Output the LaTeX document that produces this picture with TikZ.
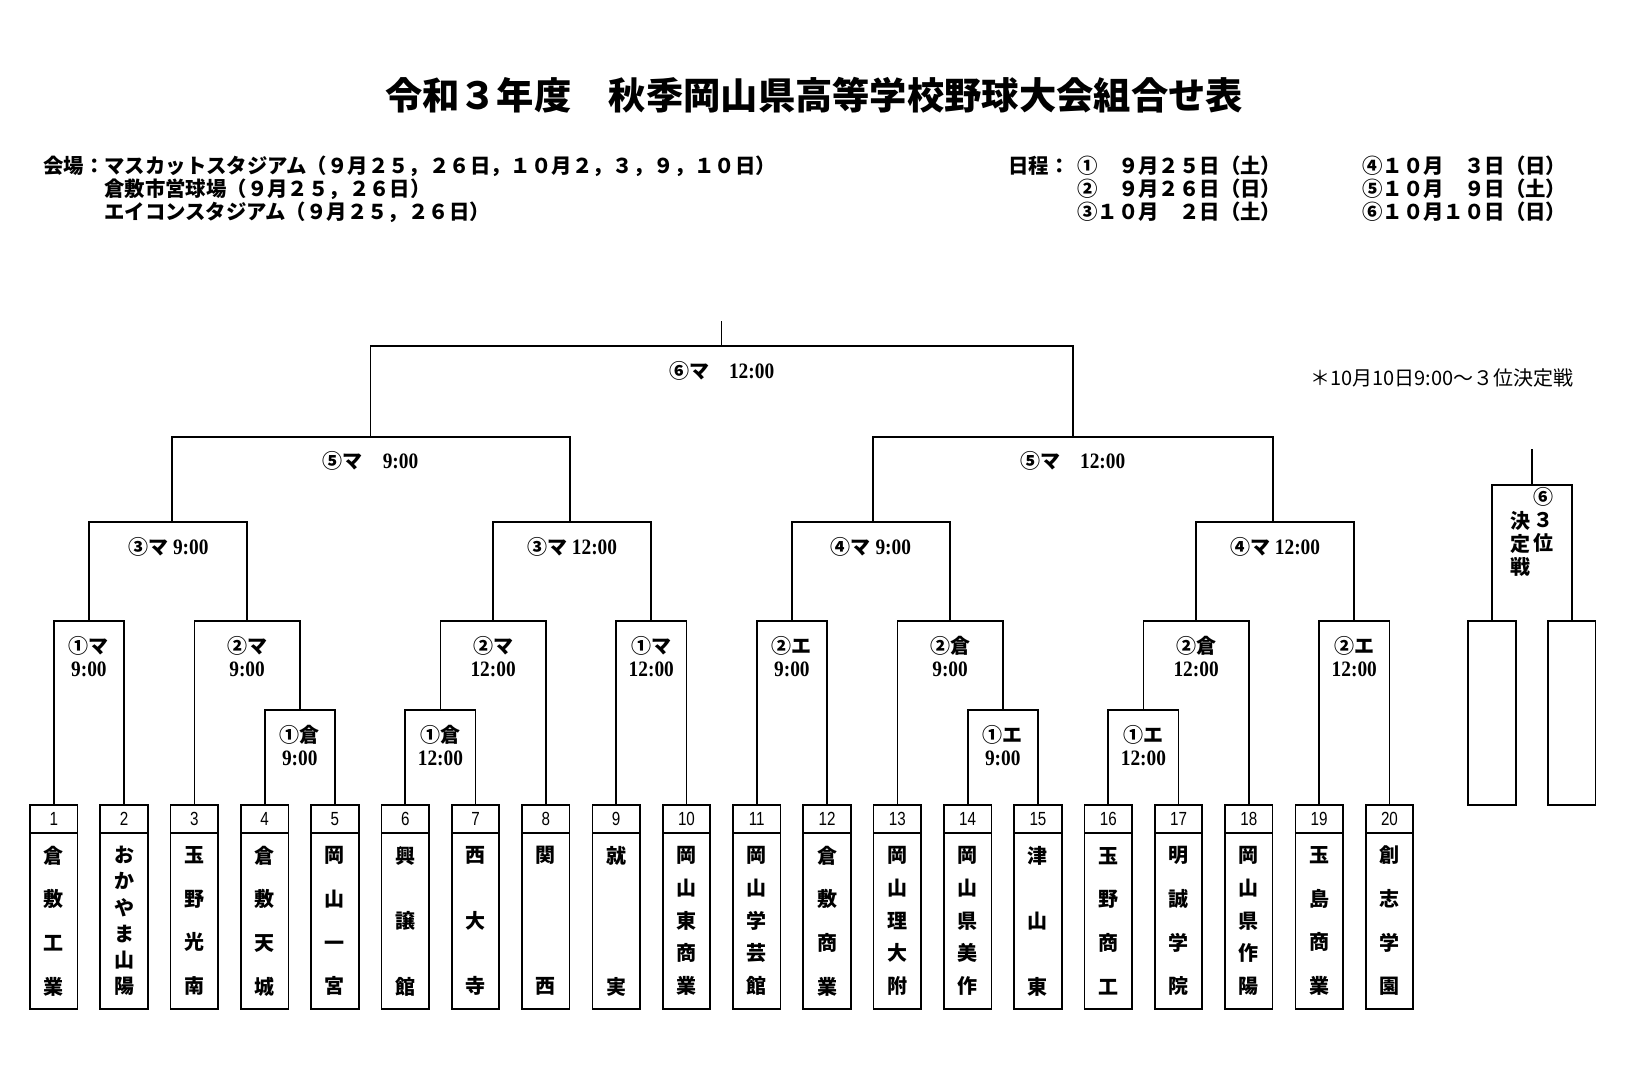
\documentclass[tikz,border=0pt]{standalone}
\usepackage{fontspec}
\newfontfamily\cjk{Noto Sans CJK JP}
\newfontfamily\numf[FakeStretch=0.8]{Liberation Sans}
\newfontfamily\tmf[FakeStretch=0.88]{Liberation Serif}
\newcommand\mkteam[4]{%
  \node[numbox] (n#1) at ({53.75+70.3*(#1-1)},819) {#1};
  \node[namebox,#3] (b#1) at ({53.75+70.3*(#1-1)},921) {#4};}
\newcommand\tm[1]{{\tmf\fontsize{22}{23}\selectfont #1}}
\tikzset{
 numbox/.style={draw,line width=1.7pt,minimum width=47.5pt,minimum height=28pt,inner sep=0pt,font=\numf\fontsize{19}{19}\selectfont},
 namebox/.style={draw,line width=1.7pt,minimum width=47.5pt,minimum height=176pt,inner sep=0pt,text width=30pt,align=center},
 nmA/.style={font=\cjk\bfseries\fontsize{20}{131}\selectfont},
 nmB/.style={font=\cjk\bfseries\fontsize{20}{65.5}\selectfont},
 nmC/.style={font=\cjk\bfseries\fontsize{20}{43.67}\selectfont},
 nmD/.style={font=\cjk\bfseries\fontsize{20}{32.75}\selectfont},
 nmE/.style={font=\cjk\bfseries\fontsize{20}{26.2}\selectfont},
 lab/.style={inner sep=0pt,align=center,font=\cjk\bfseries\fontsize{20}{23}\selectfont},
 bline/.style={line width=1.7pt,line join=miter},
 hdr/.style={inner sep=0pt,anchor=west,font=\cjk\bfseries\fontsize{20.4}{23}\selectfont},
 pbox/.style={draw,line width=1.7pt,minimum width=47.5pt,minimum height=184pt,inner sep=0pt},
 vlab/.style={inner sep=0pt,align=center,font=\cjk\bfseries\fontsize{20}{23}\selectfont},
}
\begin{document}
\begin{tikzpicture}[x=1pt,y=-1pt]
\fill[white] (0,0) rectangle (1628,1080);
\useasboundingbox (0,0) rectangle (1628,1080);

% title
\node[font=\cjk\bfseries\fontsize{37.3}{40}\selectfont,inner sep=0pt] (title) at (814,95) {令和３年度　秋季岡山県高等学校野球大会組合せ表};

% venues
\node[hdr] (v1) at (43,166) {会場：マスカットスタジアム（９月２５，２６日，１０月２，３，９，１０日）};
\node[hdr] (v2) at (104,189) {倉敷市営球場（９月２５，２６日）};
\node[hdr] (v3) at (104,212) {エイコンスタジアム（９月２５，２６日）};

% schedule
\node[hdr] (d0) at (1008,166) {日程：};
\node[hdr] (d1) at (1077,166) {①　９月２５日（土）};
\node[hdr] (d2) at (1077,189) {②　９月２６日（日）};
\node[hdr] (d3) at (1077,212) {③１０月　２日（土）};
\node[hdr] (d4) at (1362,166) {④１０月　３日（日）};
\node[hdr] (d5) at (1362,189) {⑤１０月　９日（土）};
\node[hdr] (d6) at (1362,212) {⑥１０月１０日（日）};

% note
\node[inner sep=0pt,anchor=west,font=\cjk\fontsize{20}{22}\selectfont] (note) at (1310,378) {＊10月10日9:00～３位決定戦};

% teams
\mkteam{1}{}{nmC}{倉\\敷\\工\\業}
\mkteam{2}{}{nmE}{お\\か\\や\\ま\\山\\陽}
\mkteam{3}{}{nmC}{玉\\野\\光\\南}
\mkteam{4}{}{nmC}{倉\\敷\\天\\城}
\mkteam{5}{}{nmC}{岡\\山\\一\\宮}
\mkteam{6}{}{nmB}{興\\譲\\館}
\mkteam{7}{}{nmB}{西\\大\\寺}
\mkteam{8}{}{nmA}{関\\西}
\mkteam{9}{}{nmA}{就\\実}
\mkteam{10}{}{nmD}{岡\\山\\東\\商\\業}
\mkteam{11}{}{nmD}{岡\\山\\学\\芸\\館}
\mkteam{12}{}{nmC}{倉\\敷\\商\\業}
\mkteam{13}{}{nmD}{岡\\山\\理\\大\\附}
\mkteam{14}{}{nmD}{岡\\山\\県\\美\\作}
\mkteam{15}{}{nmB}{津\\山\\東}
\mkteam{16}{}{nmC}{玉\\野\\商\\工}
\mkteam{17}{}{nmC}{明\\誠\\学\\院}
\mkteam{18}{}{nmD}{岡\\山\\県\\作\\陽}
\mkteam{19}{}{nmC}{玉\\島\\商\\業}
\mkteam{20}{}{nmC}{創\\志\\学\\園}

% match points
\coordinate (m12) at (88.9,621);
\coordinate (m45) at (299.8,710);
\coordinate (m345) at (247.08,621);
\coordinate (m67) at (440.4,710);
\coordinate (m678) at (493.13,621);
\coordinate (m910) at (651.3,621);
\coordinate (q1) at (171.7,522);
\coordinate (q2) at (570,522);
\coordinate (s1) at (370.5,437);
\coordinate (m1112) at (791.9,621);
\coordinate (m1415) at (1002.8,710);
\coordinate (m1315) at (950.08,621);
\coordinate (q3) at (872.7,522);
\coordinate (m1617) at (1143.4,710);
\coordinate (m1618) at (1196.13,621);
\coordinate (m1920) at (1354.3,621);
\coordinate (q4) at (1272.7,522);
\coordinate (s2) at (1072.7,437);
\coordinate (fin) at (721.6,346);
\coordinate (top) at (721.6,321);

% bracket
\draw[bline] (n1.north) |- (m12) -| (n2.north);
\draw[bline] (n4.north) |- (m45) -| (n5.north);
\draw[bline] (n3.north) |- (m345) -| (m45);
\draw[bline] (n6.north) |- (m67) -| (n7.north);
\draw[bline] (m67) |- (m678) -| (n8.north);
\draw[bline] (n9.north) |- (m910) -| (n10.north);
\draw[bline] (m12) |- (q1) -| (m345);
\draw[bline] (m678) |- (q2) -| (m910);
\draw[bline] (q1) |- (s1) -| (q2);
\draw[bline] (n11.north) |- (m1112) -| (n12.north);
\draw[bline] (n14.north) |- (m1415) -| (n15.north);
\draw[bline] (n13.north) |- (m1315) -| (m1415);
\draw[bline] (n16.north) |- (m1617) -| (n17.north);
\draw[bline] (m1617) |- (m1618) -| (n18.north);
\draw[bline] (n19.north) |- (m1920) -| (n20.north);
\draw[bline] (m1112) |- (q3) -| (m1315);
\draw[bline] (m1618) |- (q4) -| (m1920);
\draw[bline] (q3) |- (s2) -| (q4);
\draw[bline] (s1) |- (fin) -| (s2);
\draw[bline] (fin) -- (top);

% match labels
\node[lab] (l12) at (88.9,656.5) {①マ\\\tm{9:00}};
\node[lab] (l345) at (247.08,656.5) {②マ\\\tm{9:00}};
\node[lab] (l45) at (299.8,745.5) {①倉\\\tm{9:00}};
\node[lab] (l67) at (440.4,745.5) {①倉\\\tm{12:00}};
\node[lab] (l678) at (493.13,656.5) {②マ\\\tm{12:00}};
\node[lab] (l910) at (651.3,656.5) {①マ\\\tm{12:00}};
\node[lab] (lq1) at (168.5,547) {③マ \tm{9:00}};
\node[lab] (lq2) at (572.2,547) {③マ \tm{12:00}};
\node[lab] (ls1) at (370.5,461) {⑤マ　\tm{9:00}};
\node[lab] (l1112) at (791.9,656.5) {②エ\\\tm{9:00}};
\node[lab] (l1315) at (950.08,656.5) {②倉\\\tm{9:00}};
\node[lab] (l1415) at (1002.8,745.5) {①エ\\\tm{9:00}};
\node[lab] (lq3) at (870.99,547) {④マ \tm{9:00}};
\node[lab] (l1617) at (1143.4,745.5) {①エ\\\tm{12:00}};
\node[lab] (l1618) at (1196.13,656.5) {②倉\\\tm{12:00}};
\node[lab] (l1920) at (1354.3,656.5) {②エ\\\tm{12:00}};
\node[lab] (lq4) at (1275.2,547) {④マ \tm{12:00}};
\node[lab] (ls2) at (1072.7,461) {⑤マ　\tm{12:00}};
\node[lab] (lfin) at (721.6,370.7) {⑥マ　\tm{12:00}};

% third place
\node[pbox] (p1) at (1492,713) {};
\node[pbox] (p2) at (1571.7,713) {};
\coordinate (tp) at (1531.85,485);
\coordinate (tptop) at (1531.85,449);
\draw[bline] (p1.north) |- (tp) -| (p2.north);
\draw[bline] (tp) -- (tptop);
\node[vlab] (t6) at (1543,497) {⑥};
\node[vlab] (t3i) at (1543,532) {３\\位};
\node[vlab] (tk) at (1520,543.7) {決\\定\\戦};
\end{tikzpicture}
\end{document}
